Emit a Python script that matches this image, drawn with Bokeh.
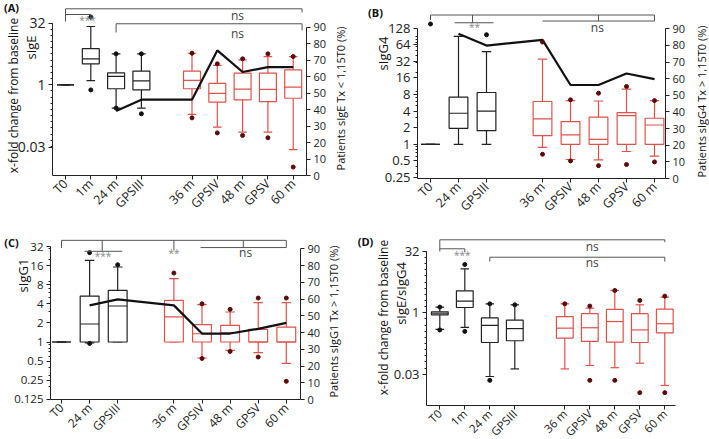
import math
from bokeh.plotting import figure
from bokeh.models import (Range1d, LinearAxis, LinearScale, FixedTicker, Label,
                          CustomJSTickFormatter, ColumnDataSource)
from bokeh.layouts import row, column
from bokeh.embed import file_html
from bokeh.resources import INLINE

NAN = float("nan")
FONT = "Open Sans"
BLACK = "#222222"
RED = "#e0524a"
DOT_BLACK = "#111111"
DOT_RED = "#5a0a0a"
GREY = "#555555"

# ---------------- Panel A : sIgE ----------------
A_cats = ["T0", "1m", "24 m", "GPSIII", "36 m", "GPSIV", "48 m", "GPSV", "60 m"]
A_whi = [1, 26.5, 5.7, 5.7, 5.9, 2.97, 4.08, 4.9, 4.9]
A_q3 = [1, 7.6, 1.96, 2.16, 2.16, 1.08, 1.93, 1.93, 2.32]
A_med = [1, 4.3, 1.6, 1.25, 1.28, 0.62, 0.78, 0.77, 0.88]
A_q1 = [1, 3.25, 0.8, 0.75, 0.8, 0.377, 0.43, 0.39, 0.47]
A_wlo = [1, 1.27, 0.27, 0.27, 0.19, 0.093, 0.07, 0.07, 0.026]
A_ohi = [NAN, 45, 5.7, 5.7, 5.9, 3.25, 4.3, 5.7, 4.9]
A_olo = [NAN, 0.75, 0.27, 0.196, 0.156, 0.067, 0.058, 0.051, 0.0098]
A_pct = [NAN, NAN, 39.2, 46, 46, 75.9, 62.8, 65.8, 65.8]
A_yticks = [0.03, 1, 32]

# ---------------- Panel B : sIgG4 ----------------
B_cats = ["T0", "24 m", "GPSIII", "36 m", "GPSIV", "48 m", "GPSV", "60 m"]
B_whi = [1, 90.5, 48, 35, 6.2, 6.1, 10, 6.2]
B_q3 = [1, 7.15, 8.7, 5.97, 2.58, 3.1, 3.76, 2.97]
B_med = [1, 3.66, 4.0, 2.89, 1.48, 1.23, 3.3, 2.24]
B_q1 = [1, 1.95, 1.77, 1.44, 1.0, 1.0, 1.0, 1.0]
B_wlo = [1, 1.0, 1.0, 0.88, 0.53, 0.52, 0.74, 0.61]
B_ohi = [152, NAN, 97, 71.5, 6.4, 8.45, 11.2, 6.2]
B_olo = [NAN, NAN, NAN, 0.66, 0.5, 0.41, 0.43, 0.48]
B_pct = [NAN, 87, 79.9, 83.3, 56.2, 56.2, 63.1, 59.7]
B_yticks = [0.25, 0.5, 1, 2, 4, 8, 16, 32, 64, 128]

# ---------------- Panel C : sIgG1 ----------------
C_cats = ["T0", "24 m", "GPSIII", "36 m", "GPSIV", "48 m", "GPSV", "60 m"]
C_whi = [1, 19.4, 15.2, 9.97, 3.88, 2.97, 4.17, 4.17]
C_q3 = [1, 5.3, 6.5, 4.53, 1.88, 1.83, 1.58, 1.72]
C_med = [1, 1.92, 3.69, 2.48, 1.35, 1.4, 1.0, 1.0]
C_q1 = [1, 1, 1, 1, 1, 1, 1, 1]
C_wlo = [1, 0.97, 1.0, 1.0, 0.56, 0.74, 0.68, 0.46]
C_ohi = [NAN, 25.6, 16.5, 12.2, 4.0, 3.27, 4.93, 4.93]
C_olo = [NAN, 0.95, NAN, NAN, 0.55, 0.71, 0.58, 0.24]
C_pct = [NAN, 56.2, 59.8, 56.2, 39.4, 39.4, 42.2, 45.8]
C_yticks = [0.125, 0.25, 0.5, 1, 2, 4, 8, 16, 32]

# ---------------- Panel D : sIgE/sIgG4 ----------------
D_cats = ["T0", "1m", "24 m", "GPSIII", "36 m", "GPSIV", "48 m", "GPSV", "60 m"]
D_whi = [1.38, 12, 1.66, 1.57, 1.66, 1.3, 3.53, 1.57, 2.42]
D_q3 = [1.06, 3.47, 0.75, 0.66, 0.81, 0.95, 1.21, 0.95, 1.23]
D_med = [0.98, 1.93, 0.49, 0.41, 0.42, 0.43, 0.61, 0.38, 0.54]
D_q1 = [0.89, 1.35, 0.187, 0.206, 0.24, 0.198, 0.19, 0.187, 0.32]
D_wlo = [0.39, 0.44, 0.0274, 0.042, 0.042, 0.051, 0.045, 0.058, 0.0165]
D_ohi = [1.38, 15.3, 1.66, 1.57, 1.66, 1.46, 3.53, 2.01, 2.56]
D_olo = [0.38, 0.35, 0.022, NAN, NAN, 0.022, 0.022, 0.011, 0.011]
D_yticks = [0.03, 1, 32]

# significance brackets (category slots, data values)
A_brk_x = [[0, 0, 9.35, 9.35], [0, 1, 1], [2, 2, 9.35, 9.35]]
A_brk_y = [[35.1, 71.7, 71.7, 58.2], [52.0, 52.0, 37.1], [18.9, 30.9, 30.9, 21.2]]
A_sig = [(6.8, 50.5, "ns"), (6.8, 18.0, "ns"), (0.87, 38.2, "***")]

B_brk_x = [[0, 0, 8, 8], [1.5, 1.5], [0.86, 2.25], [6, 6], [4, 8]]
B_brk_y = [[180, 221, 221, 172], [221, 160], [160, 160], [221, 172], [172, 172]]
B_sig = [(1.57, 136, "**"), (5.96, 132, "ns")]

C_brk_x = [[0, 0, 8, 8], [1.45, 1.45], [0.82, 2.16], [4, 4], [6.47, 6.47], [4.95, 8]]
C_brk_y = [[30.3, 40, 40, 30.8], [40, 26.9], [26.9, 26.9], [40, 27.9], [40, 30.8], [30.8, 30.8]]
C_sig = [(1.48, 22.6, "***"), (4.0, 25.2, "**"), (6.55, 25.6, "ns")]

D_brk_x = [[0, 0, 9, 9], [0, 1, 1], [2, 2, 9, 9]]
D_brk_y = [[31.9, 61.8, 61.8, 54], [37.2, 37.2, 30.6], [18.1, 23.1, 23.1, 18.1]]
D_sig = [(6.1, 42, "ns"), (6.1, 17.0, "ns"), (0.9, 26.5, "***")]

# slot positions of categories (with a gap before 36 m)
SLOTS9 = [0, 1, 2, 3, 5, 6, 7, 8, 9]
SLOTS8 = [0, 1, 2, 4, 5, 6, 7, 8]

# geometry (page pixels): figure box, axis frame, category/scale mapping
GA = dict(box=(0, 0, 352, 218), frame=(52, 306, 3, 175), x0=65, xs=25.3,
          one_y=84.3, ppd=12.33, pct0=175, pct90=26.7)
GB = dict(box=(352, 0, 357, 218), frame=(417, 665, 8, 178), x0=430, xs=28,
          one_y=143.8, ppd=16.6, pct0=178, pct90=28.3)
GC = dict(box=(0, 218, 352, 221), frame=(50, 300, 234, 399), x0=61, xs=28.1,
          one_y=341.5, ppd=19.1, pct0=399, pct90=248.3)
GD = dict(box=(352, 218, 357, 221), frame=(426, 675, 234, 405), x0=439.3, xs=25,
          one_y=312.3, ppd=12.27, pct0=None, pct90=None)


def minor_decade(lo, hi):
    out = []
    for e in range(-4, 4):
        for k in range(2, 10):
            v = k * 10.0 ** e
            if lo <= v <= hi:
                out.append(v)
    return out


def minor_halfpow2(lo, hi):
    return [2 ** (k / 2) for k in range(-10, 11) if k % 2 and lo <= 2 ** (k / 2) <= hi] + \
           [2 ** (k / 2) for k in range(-10, 11) if not k % 2 and lo <= 2 ** (k / 2) <= hi]


def style_axis(ax, size):
    ax.major_label_text_font = FONT
    ax.major_label_text_font_size = size
    ax.major_label_text_color = BLACK
    ax.axis_line_color = BLACK
    ax.major_tick_line_color = BLACK
    ax.minor_tick_line_color = BLACK
    ax.major_tick_in = 0
    ax.major_tick_out = 4
    ax.minor_tick_in = 0
    ax.minor_tick_out = 2


def make_panel(g, cats, slots, n_black, whi, q3, med, q1, wlo, ohi, olo, pct,
               yticks, ytick_size, brk_x, brk_y, sig, texts, xlab_size="12px",
               minor="decade"):
    ox, oy, W, H = g["box"]
    L, R, T, B = g["frame"]
    x0, xs = g["x0"], g["xs"]
    one_y, ppd = g["one_y"], g["ppd"]

    def xd(px):
        return (px - x0) / xs

    def yd(py):
        return 2 ** ((one_y - py) / ppd)

    p = figure(width=W, height=H, x_range=Range1d(xd(ox), xd(ox + W)),
               y_range=Range1d(yd(oy + H), yd(oy)), y_axis_type="log",
               output_backend="svg", toolbar_location=None,
               min_border_left=0, min_border_right=0,
               min_border_top=0, min_border_bottom=0)
    p.outline_line_color = None
    p.xgrid.visible = False
    p.ygrid.visible = False
    p.background_fill_color = "white"
    p.border_fill_color = "white"

    xa = p.xaxis[0]
    xa.fixed_location = yd(B)
    xa.bounds = (xd(L), xd(R))
    xa.ticker = FixedTicker(ticks=slots)
    xa.major_label_overrides = {s: c for s, c in zip(slots, cats)}
    xa.major_label_orientation = math.pi / 4
    xa.major_label_standoff = 2
    style_axis(xa, xlab_size)
    xa.minor_tick_line_color = None

    ya = p.yaxis[0]
    top_tick = max(yticks)
    if minor == "decade":
        mt = minor_decade(yd(B), top_tick)
    else:
        mt = minor_halfpow2(min(yticks), top_tick)
    ya.fixed_location = xd(L)
    ya.ticker = FixedTicker(ticks=yticks, minor_ticks=mt)
    ya.bounds = (yd(B), top_tick)
    ya.formatter = CustomJSTickFormatter(code="return tick.toString();")
    ya.major_label_standoff = 3
    style_axis(ya, ytick_size)

    if g["pct0"] is not None:
        def pdv(py):
            return (g["pct0"] - py) * 90.0 / (g["pct0"] - g["pct90"])
        p.extra_y_ranges = {"pct": Range1d(pdv(oy + H), pdv(oy))}
        p.extra_y_scales = {"pct": LinearScale()}
        ra = LinearAxis(y_range_name="pct", bounds=(0, 90), fixed_location=xd(R),
                        ticker=FixedTicker(ticks=list(range(0, 91, 10))))
        ra.major_label_standoff = 3
        style_axis(ra, "11px")
        ra.minor_tick_line_color = None
        p.add_layout(ra, "right")

    n = len(cats)
    cols = [BLACK] * n_black + [RED] * (n - n_black)
    dcols = [DOT_BLACK] * n_black + [DOT_RED] * (n - n_black)
    bw, cw = 0.67, 0.34
    src = ColumnDataSource(dict(
        x=slots, whi=whi, q3=q3, med=med, q1=q1, wlo=wlo, ohi=ohi, olo=olo,
        col=cols, dcol=dcols,
        cl=[s - cw / 2 for s in slots], cr=[s + cw / 2 for s in slots],
        bl=[s - bw / 2 for s in slots], br=[s + bw / 2 for s in slots]))

    p.segment("x", "q3", "x", "whi", source=src, line_color="col", line_width=1.2)
    p.segment("x", "q1", "x", "wlo", source=src, line_color="col", line_width=1.2)
    p.segment("cl", "whi", "cr", "whi", source=src, line_color="col", line_width=1.2)
    p.segment("cl", "wlo", "cr", "wlo", source=src, line_color="col", line_width=1.2)
    p.vbar(x="x", width=bw, top="q3", bottom="q1", source=src,
           fill_color="white", line_color="col", line_width=1.2)
    p.segment("bl", "med", "br", "med", source=src, line_color="col", line_width=1.2)

    if pct is not None:
        p.line(slots, pct, y_range_name="pct", line_color="#111111", line_width=2.2)

    p.scatter("x", "ohi", source=src, size=4, color="dcol")
    p.scatter("x", "olo", source=src, size=4, color="dcol")

    p.multi_line(xs=brk_x, ys=brk_y, line_color=GREY, line_width=1)
    for sx, sy, st in sig:
        p.add_layout(Label(x=sx, y=sy, text=st, text_align="center",
                           text_baseline="middle", text_font=FONT,
                           text_font_size="12px" if st == "ns" else "10px",
                           text_color="#444444" if st == "ns" else "#888888"))

    for px, py, txt, size, ang, bold in texts:
        p.add_layout(Label(x=xd(px), y=yd(py), text=txt, angle=ang,
                           text_align="center", text_baseline="middle",
                           text_font=FONT, text_font_size=size,
                           text_font_style="bold" if bold else "normal",
                           text_color="#111111"))
    return p


V = math.pi / 2
pA = make_panel(GA, A_cats, SLOTS9, 4, A_whi, A_q3, A_med, A_q1, A_wlo, A_ohi, A_olo,
                A_pct, A_yticks, "14px", A_brk_x, A_brk_y, A_sig,
                [(11, 7, "(A)", "11px", 0, True),
                 (13, 95, "x-fold change from baseline", "12px", V, False),
                 (30, 47, "sIgE", "13px", V, False),
                 (340, 98, "Patients sIgE Tx < 1,15T0 (%)", "11px", V, False)],
                xlab_size="12.5px", minor="half")
pB = make_panel(GB, B_cats, SLOTS8, 3, B_whi, B_q3, B_med, B_q1, B_wlo, B_ohi, B_olo,
                B_pct, B_yticks, "13px", B_brk_x, B_brk_y, B_sig,
                [(375, 12, "(B)", "11px", 0, True),
                 (382, 53, "sIgG4", "13px", V, False),
                 (701, 101, "Patients sIgG4 Tx > 1,15T0 (%)", "11px", V, False)],
                xlab_size="12.5px")
pC = make_panel(GC, C_cats, SLOTS8, 3, C_whi, C_q3, C_med, C_q1, C_wlo, C_ohi, C_olo,
                C_pct, C_yticks, "11.5px", C_brk_x, C_brk_y, C_sig,
                [(11, 242, "(C)", "11px", 0, True),
                 (22, 275, "sIgG1", "13px", V, False),
                 (333, 321, "Patients sIgG1 Tx > 1,15T0 (%)", "11px", V, False)],
                xlab_size="12px")
pD = make_panel(GD, D_cats, SLOTS9, 4, D_whi, D_q3, D_med, D_q1, D_wlo, D_ohi, D_olo,
                None, D_yticks, "13px", D_brk_x, D_brk_y, D_sig,
                [(365, 241, "(D)", "11px", 0, True),
                 (383, 317, "x-fold change from baseline", "12px", V, False),
                 (400, 293, "sIgE/sIgG4", "13px", V, False)],
                xlab_size="11.5px", minor="half")

layout = column(row(pA, pB), row(pC, pD))

open("out.html", "w").write(file_html(layout, INLINE))
